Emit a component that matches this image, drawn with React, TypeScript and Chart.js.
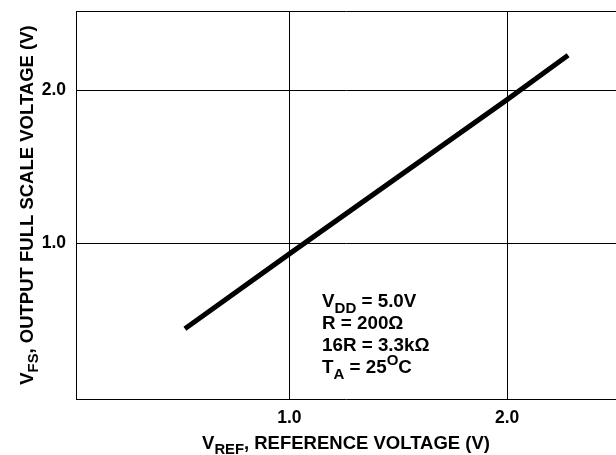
import React, { useEffect, useRef } from "react";
import { Chart, registerables } from "chart.js";

Chart.register(...registerables);

// ---- data ----
const vrefValues = [0.52, 1.0, 2.0, 2.28];
const vfsValues = [0.44, 0.93, 1.94, 2.23];
const xTickValues = [1.0, 2.0];
const yTickValues = [1.0, 2.0];
const xMin = 0.02;
const xMax = 2.5;
const yMin = -0.02;
const yMax = 2.52;

type Seg = { t: string; k?: "sub" | "sup" };
const xTitle: Seg[] = [{ t: "V" }, { t: "REF", k: "sub" }, { t: ", REFERENCE VOLTAGE (V)" }];
const yTitle: Seg[] = [{ t: "V" }, { t: "FS", k: "sub" }, { t: ", OUTPUT FULL SCALE VOLTAGE (V)" }];
const noteLines: Seg[][] = [
  [{ t: "V" }, { t: "DD", k: "sub" }, { t: " = 5.0V" }],
  [{ t: "R = 200\u03A9" }],
  [{ t: "16R = 3.3k\u03A9" }],
  [{ t: "T" }, { t: "A", k: "sub" }, { t: " = 25" }, { t: "O", k: "sup" }, { t: "C" }],
];

const FAMILY = '"Liberation Sans", Arial, Helvetica, sans-serif';

function segFont(size: number, k?: string) {
  const s = k ? size * 0.8 : size;
  return `bold ${s}px ${FAMILY}`;
}

function richWidth(ctx: CanvasRenderingContext2D, segs: Seg[], size: number) {
  let w = 0;
  for (const s of segs) {
    ctx.font = segFont(size, s.k);
    w += ctx.measureText(s.t).width;
  }
  return w;
}

function drawRich(ctx: CanvasRenderingContext2D, segs: Seg[], x: number, y: number, size: number) {
  let cx = x;
  ctx.textAlign = "left";
  ctx.textBaseline = "alphabetic";
  for (const s of segs) {
    ctx.font = segFont(size, s.k);
    const dy = s.k === "sub" ? size * 0.28 : s.k === "sup" ? -size * 0.42 : 0;
    ctx.fillText(s.t, cx, y + dy);
    cx += ctx.measureText(s.t).width;
  }
}

const textPlugin = {
  id: "richText",
  afterDraw(chart: any) {
    const { ctx, chartArea, scales } = chart;
    ctx.save();
    ctx.fillStyle = "#000";
    // x axis title
    const xs = 18.5;
    const xw = richWidth(ctx, xTitle, xs);
    const cx = (chartArea.left + chartArea.right) / 2;
    drawRich(ctx, xTitle, cx - xw / 2, chart.height - 6, xs);
    // y axis title
    const ys = 18.5;
    const yw = richWidth(ctx, yTitle, ys);
    const cy = (chartArea.top + chartArea.bottom) / 2;
    ctx.save();
    ctx.translate(33, cy);
    ctx.rotate(-Math.PI / 2);
    drawRich(ctx, yTitle, -yw / 2, 0, ys);
    ctx.restore();
    // annotation
    const ns = 18.8;
    const nx = scales.x.getPixelForValue(1.15);
    const ny = scales.y.getPixelForValue(0.58);
    noteLines.forEach((line, i) => drawRich(ctx, line, nx, ny + i * 22, ns));
    ctx.restore();
  },
};

export default function App() {
  const ref = useRef<HTMLCanvasElement | null>(null);
  useEffect(() => {
    document.body.style.margin = "0";
    const canvas = ref.current!;
    const chart = new Chart(canvas, {
      type: "line",
      data: {
        datasets: [
          {
            data: vrefValues.map((x, i) => ({ x, y: vfsValues[i] })),
            borderColor: "#000",
            borderWidth: 5,
            borderCapStyle: "butt",
            pointRadius: 0,
            fill: false,
            tension: 0,
          },
        ],
      },
      options: {
        responsive: false,
        animation: false,
        devicePixelRatio: 1,
        layout: { padding: { top: 11, right: 0, left: 0, bottom: 0 } },
        plugins: { legend: { display: false }, tooltip: { enabled: false }, title: { display: false } },
        scales: {
          x: {
            type: "linear",
            min: xMin,
            max: xMax,
            afterBuildTicks: (s: any) => {
              s.ticks = xTickValues.map((v) => ({ value: v }));
            },
            afterFit: (s: any) => {
              s.height = 56;
              s.paddingLeft = 0;
              s.paddingRight = 0;
            },
            grid: { color: "#000", lineWidth: 1, drawTicks: false },
            border: { display: true, color: "#000", width: 1 },
            ticks: {
              color: "#000",
              padding: 9,
              font: { family: FAMILY, size: 17.5, weight: "bold" },
              callback: (v: any) => Number(v).toFixed(1),
            },
          },
          y: {
            type: "linear",
            min: yMin,
            max: yMax,
            afterBuildTicks: (s: any) => {
              s.ticks = [...yTickValues, yMax].map((v) => ({ value: v }));
            },
            afterFit: (s: any) => {
              s.width = 76;
              s.paddingTop = 0;
              s.paddingBottom = 0;
            },
            grid: { color: "#000", lineWidth: 1, drawTicks: false },
            border: { display: true, color: "#000", width: 1 },
            ticks: {
              color: "#000",
              padding: 10,
              font: { family: FAMILY, size: 17.5, weight: "bold" },
              callback: (v: any) => (yTickValues.includes(Number(v)) ? Number(v).toFixed(1) : ""),
            },
          },
        },
      },
      plugins: [textPlugin],
    } as any);
    return () => chart.destroy();
  }, []);
  return (
    <div style={{ position: "absolute", left: 0, top: 0, width: 616, height: 455, background: "#fff" }}>
      <canvas ref={ref} width={616} height={455} style={{ display: "block", width: 616, height: 455 }} />
    </div>
  );
}
